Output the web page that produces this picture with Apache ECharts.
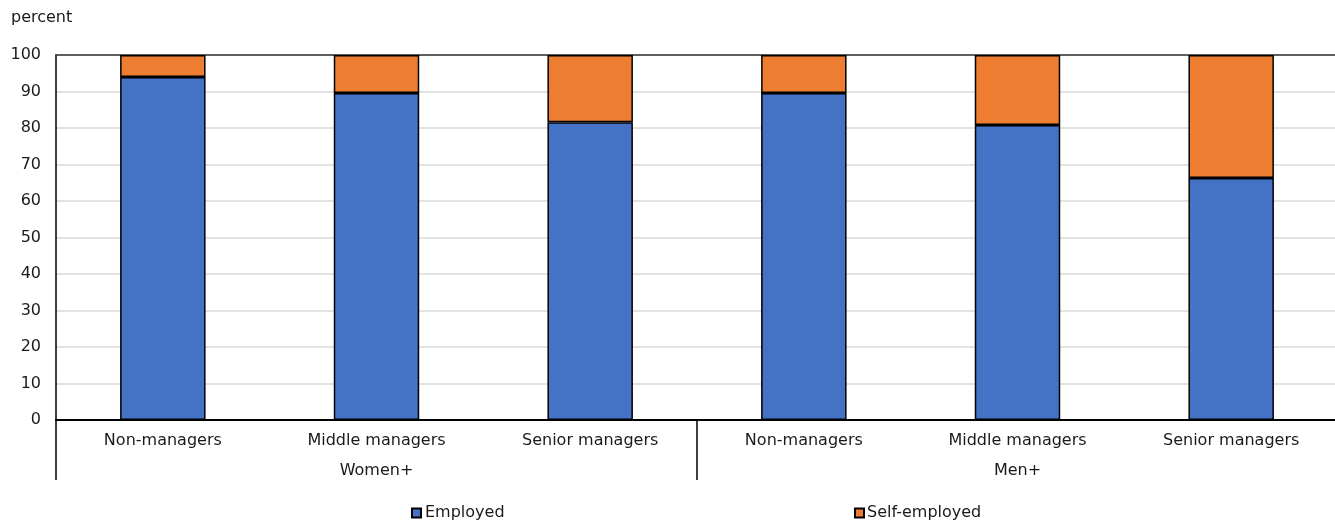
<!DOCTYPE html>
<html>
<head>
<meta charset="utf-8">
<script src="https://cdn.jsdelivr.net/npm/echarts@6/dist/echarts.min.js"></script>
<style>
  html, body { margin: 0; padding: 0; background: #fff; }
  #chart { width: 1335px; height: 521px; }
</style>
</head>
<body>
<div id="chart"></div>
<script>
// Share of employed vs self-employed, by managerial level and gender
const categories = ['Non-managers', 'Middle managers', 'Senior managers',
                    'Non-managers', 'Middle managers', 'Senior managers'];
const groups = ['Women+', 'Men+'];
const employed = [94.0, 89.6, 81.6, 89.6, 80.8, 66.3];
const selfEmployed = employed.map(v => +(100 - v).toFixed(1));
const yTicks = [0, 10, 20, 30, 40, 50, 60, 70, 80, 90, 100];

const FONT = 'DejaVu Sans, Verdana, sans-serif';
const TXT = '#1a1a1a';
const FS = 16;

const chart = echarts.init(document.getElementById('chart'), null, { renderer: 'canvas' });

chart.setOption({
  animation: false,
  textStyle: { fontFamily: FONT, color: TXT },
  graphic: [{
    type: 'text', left: 11, top: 10,
    style: { text: 'percent', font: FS + 'px ' + FONT, fill: TXT }
  }],
  legend: [
    {
      data: ['Employed'], left: 409, top: 503,
      itemWidth: 9, itemHeight: 9, itemGap: 4, padding: 2,
      icon: 'rect',
      textStyle: { fontSize: FS, color: TXT, fontFamily: FONT, padding: [0, 0, 0, -1] }
    },
    {
      data: ['Self-employed'], left: 852, top: 503,
      itemWidth: 9, itemHeight: 9, itemGap: 4, padding: 2,
      icon: 'rect',
      textStyle: { fontSize: FS, color: TXT, fontFamily: FONT, padding: [0, 0, 0, -2] }
    }
  ],
  // the plot runs to the right edge; the closing group tick falls just outside
  grid: { left: 56, right: -3, top: 55, bottom: 101, containLabel: false, outerBoundsMode: 'none' },
  xAxis: [
    {
      type: 'category', data: categories, position: 'bottom',
      axisLine: { show: true, lineStyle: { color: '#000', width: 2 } },
      axisTick: { show: false },
      axisLabel: { fontSize: FS, color: TXT, fontFamily: FONT, margin: 13, interval: 0 }
    },
    {
      type: 'category', data: groups, position: 'bottom',
      axisLine: { show: false },
      axisTick: { show: true, length: 60, alignWithLabel: false, lineStyle: { color: '#000', width: 1.5 } },
      axisLabel: { fontSize: FS, color: TXT, fontFamily: FONT, margin: 43, interval: 0 }
    },
    {
      // top frame line at 100
      type: 'category', data: categories, position: 'top',
      axisLine: { show: true, lineStyle: { color: '#333', width: 1.5 } },
      axisTick: { show: false }, axisLabel: { show: false }
    }
  ],
  yAxis: {
    type: 'value', min: yTicks[0], max: yTicks[yTicks.length - 1], interval: 10,
    axisLine: { show: true, lineStyle: { color: '#000', width: 1.5 } },
    axisTick: { show: false },
    axisLabel: { fontSize: FS, color: TXT, fontFamily: FONT, margin: 15 },
    splitLine: { show: true, lineStyle: { color: '#d9d9d9', width: 1.5 } }
  },
  series: [
    {
      name: 'Employed', type: 'bar', stack: 'total', xAxisIndex: 0,
      data: employed, barWidth: '40%',
      itemStyle: { color: '#4472C4', borderColor: '#000', borderWidth: 1.5 }
    },
    {
      name: 'Self-employed', type: 'bar', stack: 'total', xAxisIndex: 0,
      data: selfEmployed, barWidth: '40%',
      itemStyle: { color: '#ED7D31', borderColor: '#000', borderWidth: 1.5 }
    }
  ]
});
</script>
</body>
</html>
